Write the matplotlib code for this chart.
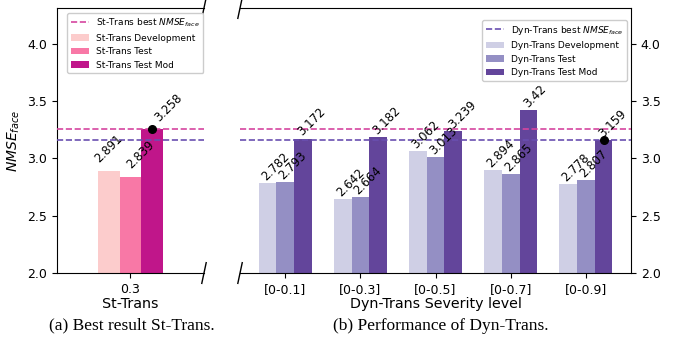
import numpy as np
import matplotlib
matplotlib.use("Agg")
import matplotlib.pyplot as plt

# St-Trans (left panel)
st_levels = ["0.3"]
st_dev = [2.891]
st_test = [2.839]
st_mod = [3.258]

# Dyn-Trans (right panel)
dyn_levels = ["[0-0.1]", "[0-0.3]", "[0-0.5]", "[0-0.7]", "[0-0.9]"]
dyn_dev = [2.782, 2.642, 3.062, 2.894, 2.778]
dyn_test = [2.793, 2.664, 3.013, 2.865, 2.807]
dyn_mod = [3.172, 3.182, 3.239, 3.42, 3.159]

st_best = 3.258
dyn_best = 3.159
dyn_best_idx = 4

st_colors = ["#fccccc", "#f878a6", "#c0168a"]
dyn_colors = ["#cfcfe5", "#948fc4", "#63459b"]
st_line = "#d6459f"
dyn_line = "#6a4fb0"

plt.rcParams["font.family"] = "DejaVu Sans"

fig = plt.figure(figsize=(6.75, 3.43), dpi=100)
ax1 = fig.add_axes([0.0844, 0.204, 0.2178, 0.7726])
ax2 = fig.add_axes([0.3556, 0.204, 0.5793, 0.7726])


def draw(ax, levels, series, colors, labels, w, nudges):
    x = np.arange(len(levels))
    for i, (vals, c, lab) in enumerate(zip(series, colors, labels)):
        xs = x + (i - 1) * w
        ax.bar(xs, vals, w, color=c, label=lab, zorder=2)
        for xi, v in zip(xs, vals):
            # value label starts at the left edge of the bar
            ax.annotate(f"{v:g}", (xi - w / 2, v), xytext=nudges[i],
                        textcoords="offset points", rotation=45,
                        ha="left", va="bottom", fontsize=8.5, zorder=5)
    ax.set_xticks(x)
    ax.set_xticklabels(levels)
    return x


w1, w2 = 0.25, 0.235
x1 = draw(ax1, st_levels, [st_dev, st_test, st_mod], st_colors,
          ["St-Trans Development", "St-Trans Test", "St-Trans Test Mod"], w1,
          [(-4, 4), (3.5, 4), (8, 3)])
x2 = draw(ax2, dyn_levels, [dyn_dev, dyn_test, dyn_mod], dyn_colors,
          ["Dyn-Trans Development", "Dyn-Trans Test", "Dyn-Trans Test Mod"], w2,
          [(0, 0), (0, 0), (1, 0)])

for ax in (ax1, ax2):
    ax.axhline(st_best, color=st_line, ls="--", lw=1.2, zorder=3,
               label="St-Trans best $NMSE_{face}$" if ax is ax1 else None)
    ax.axhline(dyn_best, color=dyn_line, ls="--", lw=1.2, zorder=3,
               label="Dyn-Trans best $NMSE_{face}$" if ax is ax2 else None)
    ax.set_ylim(2.0, 4.31)
    ax.set_yticks([2.0, 2.5, 3.0, 3.5, 4.0])
    ax.tick_params(labelsize=9)

ax1.plot(x1[0] + w1, st_mod[0], "o", color="black", ms=5.5, zorder=6)
ax2.plot(x2[dyn_best_idx] + w2, dyn_mod[dyn_best_idx], "o", color="black",
         ms=5.5, zorder=6)

ax1.set_xlim(-0.85, 0.85)
ax2.set_xlim(-0.6, 4.6)

ax1.spines["right"].set_visible(False)
ax2.spines["left"].set_visible(False)
ax2.yaxis.tick_right()
ax2.tick_params(axis="y", left=False, labelleft=False, right=True, labelright=True)

ax1.set_ylabel("$NMSE_{face}$", fontsize=10)
ax1.set_xlabel("St-Trans", fontsize=10.3, labelpad=1)
ax2.set_xlabel("Dyn-Trans Severity level", fontsize=10.3, labelpad=1)

ax1.legend(loc="upper left", bbox_to_anchor=(10 / 147, 1 - 5 / 265),
           borderaxespad=0, fontsize=6.5, framealpha=1)
ax2.legend(loc="upper right", bbox_to_anchor=(1 - 4 / 391, 1 - 12 / 265),
           borderaxespad=0, fontsize=6.5, framealpha=1)

# break marks
d = 0.015
kw = dict(color="k", clip_on=False, lw=1)
ax1.plot((1 - d, 1 + d), (1 - d * 2.6, 1 + d * 2.6), transform=ax1.transAxes, **kw)
ax1.plot((1 - d, 1 + d), (-d * 2.6, d * 2.6), transform=ax1.transAxes, **kw)
d2 = d * 0.2178 / 0.5793
ax2.plot((-d2, d2), (1 - d * 2.6, 1 + d * 2.6), transform=ax2.transAxes, **kw)
ax2.plot((-d2, d2), (-d * 2.6, d * 2.6), transform=ax2.transAxes, **kw)

fig.text(0.196, 0.05, "(a) Best result St-Trans.", ha="center", va="center",
         family="Liberation Serif", fontsize=12.5)
fig.text(0.653, 0.05, "(b) Performance of Dyn-Trans.", ha="center", va="center",
         family="Liberation Serif", fontsize=12.5)

fig.savefig("out.png", dpi=100)
